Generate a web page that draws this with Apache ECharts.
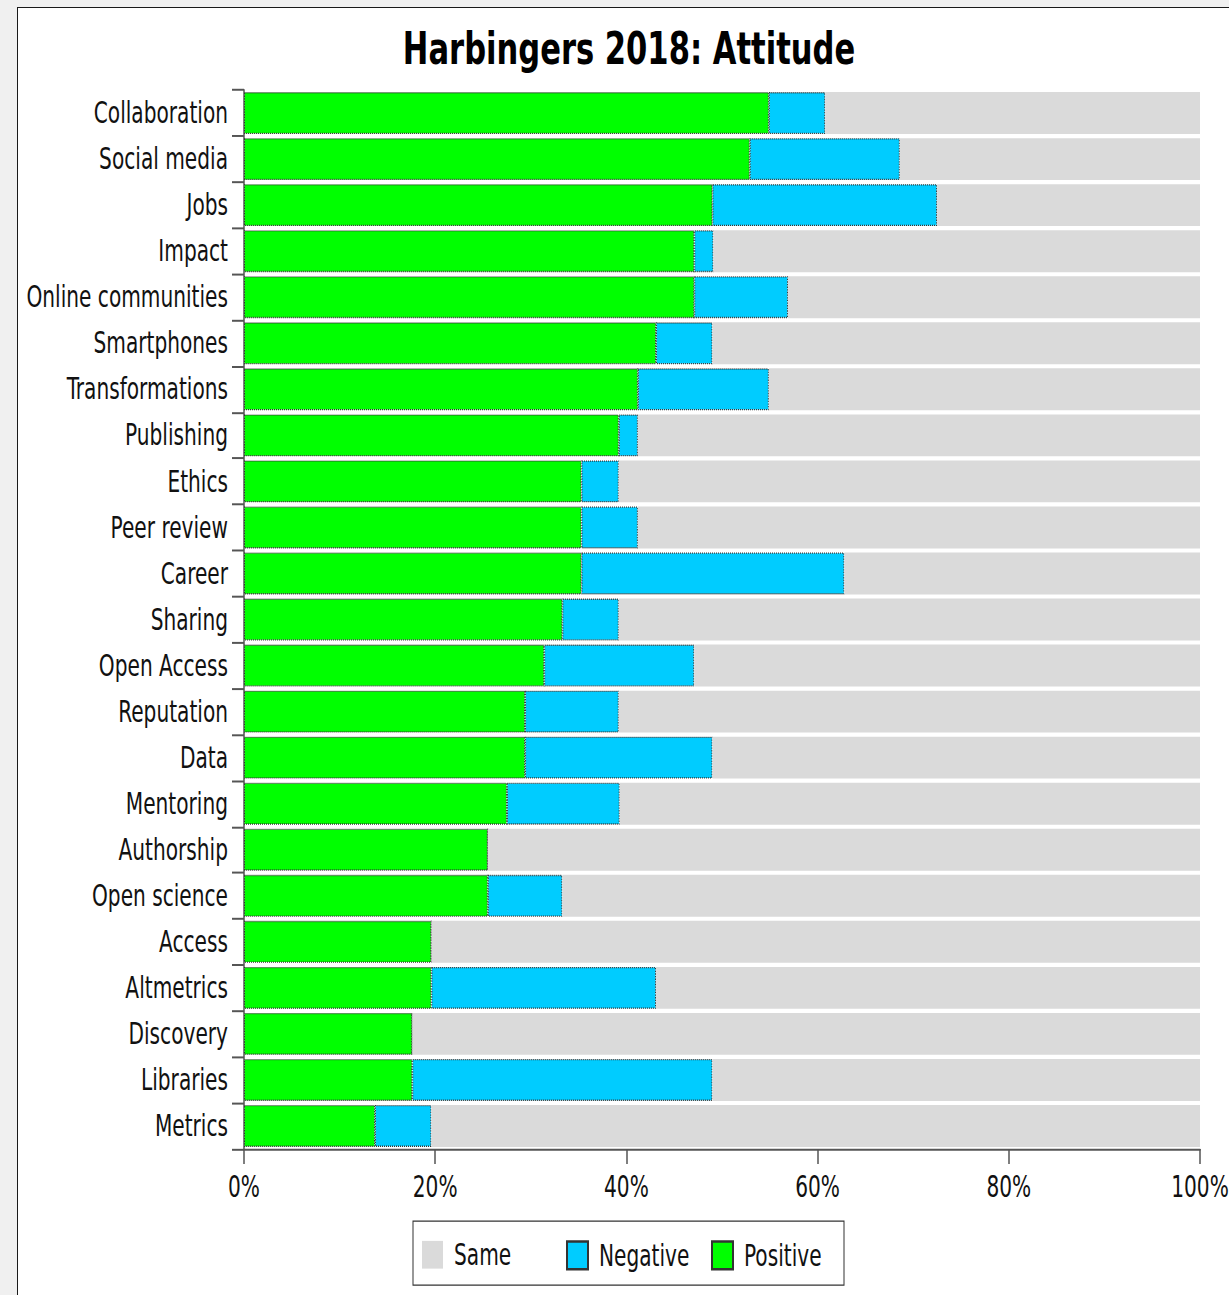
<!DOCTYPE html>
<html>
<head>
<meta charset="utf-8">
<script src="https://cdn.jsdelivr.net/npm/echarts@6/dist/echarts.min.js"></script>
<style>
  html, body { margin:0; padding:0; background:#f0f0f0; width:1229px; height:1295px; overflow:hidden; }
  #box { position:absolute; left:17px; top:7px; width:1240px; height:1320px; background:#fff; border:1.5px solid #1a1a1a; }
  #chart { position:absolute; left:0; top:0; width:1229px; height:981px; transform-origin:0 0; transform:scaleY(1.3201); }
</style>
</head>
<body>
<div id="box"></div>
<div id="chart"></div>
<script>
const categories = ["Collaboration","Social media","Jobs","Impact","Online communities","Smartphones","Transformations","Publishing","Ethics","Peer review","Career","Sharing","Open Access","Reputation","Data","Mentoring","Authorship","Open science","Access","Altmetrics","Discovery","Libraries","Metrics"];
const positive = [54.9,52.9,49.0,47.1,47.1,43.1,41.2,39.2,35.3,35.3,35.3,33.3,31.4,29.4,29.4,27.5,25.5,25.5,19.6,19.6,17.6,17.6,13.7];
const negative = [5.9,15.7,23.5,2.0,9.8,5.9,13.7,2.0,3.9,5.9,27.5,5.9,15.7,9.8,19.6,11.8,0,7.8,0,23.5,0,31.4,5.9];
const same = [39.2,31.4,27.5,50.9,43.1,51.0,45.1,58.8,60.8,58.8,37.2,60.8,52.9,60.8,51.0,60.7,74.5,66.7,80.4,56.9,82.4,51.0,80.4];
const xTicks = [0,20,40,60,80,100];
const legendNames = ['Same','Negative','Positive'];

const FONT = '"DejaVu Sans Condensed", "DejaVu Sans", sans-serif';
const chart = echarts.init(document.getElementById('chart'), null, {renderer:'svg'});
const barBorder = {borderColor:'#333', borderWidth:1, borderType:'dotted'};
const legendLefts = [422, 566, 711];
chart.setOption({
  animation:false,
  backgroundColor:'transparent',
  graphic:[
    {type:'text', x:629, y:36.4, style:{text:'Harbingers 2018: Attitude', font:'bold 34px ' + FONT, fill:'#000', textAlign:'center', textVerticalAlign:'middle'}},
    {type:'rect', shape:{x:413, y:925, width:431, height:48.5}, style:{fill:'none', stroke:'#333', lineWidth:1}}
  ],
  legend: legendNames.map((n, i) => ({
    data:[n], left:legendLefts[i], top:939.5, padding:0, itemWidth:21, itemHeight:21, icon:'rect',
    textStyle:{fontFamily:FONT, fontSize:22.4, color:'#111', padding:[0,0,0,6]}
  })),
  grid:{left:244, right:29, top:68.2, bottom:110.6, containLabel:false, outerBoundsMode:'none'},
  xAxis:{
    type:'value', min:0, max:100, interval:20,
    axisLine:{show:true, lineStyle:{color:'#555', width:1.5}},
    axisTick:{show:true, length:11.4, lineStyle:{color:'#555', width:1.5}},
    splitLine:{show:false},
    axisLabel:{formatter:v => xTicks.includes(v) ? v + '%' : '', fontFamily:FONT, fontSize:22.4, color:'#111', margin:18}
  },
  yAxis:{
    type:'category', data:categories, inverse:true,
    axisLine:{show:true, lineStyle:{color:'#555', width:1.5}},
    axisTick:{show:true, length:12, interval:0, alignWithLabel:false, lineStyle:{color:'#555', width:1.5}},
    axisLabel:{fontFamily:FONT, fontSize:22.4, color:'#111', margin:16, interval:0}
  },
  series:[
    {name:'Positive', type:'bar', stack:'a', data:positive, barCategoryGap:'9%', itemStyle:Object.assign({color:'#00ff00'}, barBorder)},
    {name:'Negative', type:'bar', stack:'a', data:negative, barCategoryGap:'9%', itemStyle:Object.assign({color:'#00ccff'}, barBorder)},
    {name:'Same', type:'bar', stack:'a', data:same, barCategoryGap:'9%', itemStyle:{color:'#dadada'}}
  ]
});
</script>
</body>
</html>
